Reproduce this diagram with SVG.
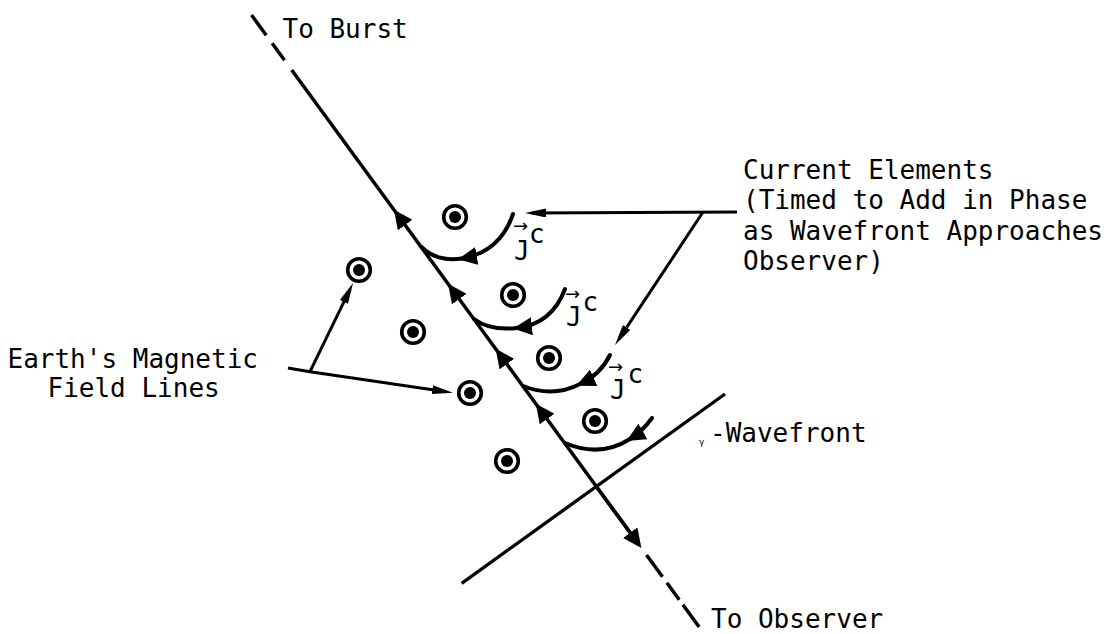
<svg xmlns="http://www.w3.org/2000/svg" width="1120" height="634" viewBox="0 0 1120 634">
<defs>
<style>
.t{font-family:"DejaVu Sans Mono","Liberation Mono",monospace;font-size:26px;fill:#000}
.g{font-family:"DejaVu Sans","Liberation Sans",sans-serif;font-size:9px;fill:#000}
.va{font-family:"DejaVu Sans","Liberation Sans",sans-serif;font-size:18px;fill:#000}
.ln{fill:none;stroke:#000}
.main{stroke-width:3.5}
.loop{stroke-width:4;stroke-linecap:round}
.ptr{stroke-width:3}
.ring{fill:none;stroke:#000;stroke-width:3.6}
.dot{fill:#000}
</style>
<marker id="ah" viewBox="0 0 19 18" refX="15" refY="9" markerWidth="19" markerHeight="18" markerUnits="userSpaceOnUse" orient="auto"><path d="M0,0 L19,9 L0,18 Z" fill="#000"/></marker>
<marker id="ap" viewBox="0 0 21 9" refX="14" refY="4.5" markerWidth="21" markerHeight="9" markerUnits="userSpaceOnUse" orient="auto"><path d="M0,0 L21,4.5 L0,9 Z" fill="#000"/></marker>
<g id="fl"><circle r="11.3" class="ring"/><circle r="6" class="dot"/></g>
</defs>
<rect width="1120" height="634" fill="#fff"/>

<g id="connectors">
  <path id="burst-dash" class="ln main" d="M251.5,15 L291.7,70" stroke-dasharray="25 10 21 40"/>
  <path id="ray" class="ln main" d="M639,544.8 L538.2,407 L498,352 L450.4,287 L396.3,213 L291.7,70" marker-mid="url(#ah)"/>
  <path id="ray-down" class="ln main" d="M596.7,487 L639,544.8" marker-end="url(#ah)"/>
  <path id="observer-dash" class="ln main" d="M641.4,548 L699.2,627" stroke-dasharray="0 8.7 27 7.4 21 6.2 28.5 50"/>
  <path id="wavefront" class="ln" stroke-width="3.3" d="M461.7,583.3 L725,394"/>
  <path class="ln ptr" d="M737,212 L532,213" marker-end="url(#ap)"/>
  <path class="ln ptr" d="M703,212 L618.9,339.2" marker-end="url(#ap)"/>
  <path class="ln ptr" d="M288,368 L310,371.7 L446.1,391.7" marker-end="url(#ap)"/>
  <path class="ln ptr" d="M310,371.7 L350,289.3" marker-end="url(#ap)"/>
  <path class="ln loop" d="M513,214 Q500,252 462,258.5" marker-end="url(#ah)"/>
  <path class="ln loop" d="M462,258.5 Q436,262 421.5,247"/>
  <path class="ln loop" d="M565,289 Q552,324 517,328" marker-end="url(#ah)"/>
  <path class="ln loop" d="M517,328 Q490,331 474,319"/>
  <path class="ln loop" d="M610,355 Q600,375 580,384" marker-end="url(#ah)"/>
  <path class="ln loop" d="M580,384 Q553,398 523,386"/>
  <path class="ln loop" d="M652,418 Q642,432 630,439" marker-end="url(#ah)"/>
  <path class="ln loop" d="M630,439 Q600,458 565,443"/>
</g>

<g id="field-1"><use href="#fl" x="455" y="217"/></g>
<g id="field-2"><use href="#fl" x="359" y="270"/></g>
<g id="field-3"><use href="#fl" x="513" y="295"/></g>
<g id="field-4"><use href="#fl" x="413" y="332"/></g>
<g id="field-5"><use href="#fl" x="549" y="358"/></g>
<g id="field-6"><use href="#fl" x="470" y="393"/></g>
<g id="field-7"><use href="#fl" x="595" y="421"/></g>
<g id="field-8"><use href="#fl" x="507" y="461"/></g>

<g id="jc-1">
  <text class="va" x="513" y="232">→</text>
  <text class="t" x="514" y="260">J</text>
  <text class="t" x="529" y="243">c</text>
</g>
<g id="jc-2">
  <text class="va" x="565" y="300">→</text>
  <text class="t" x="566" y="326">J</text>
  <text class="t" x="582.5" y="311">c</text>
</g>
<g id="jc-3">
  <text class="va" x="608" y="373">→</text>
  <text class="t" x="610" y="399">J</text>
  <text class="t" x="627.5" y="383">c</text>
</g>

<g id="label-burst"><text class="t" x="282.5" y="38">To Burst</text></g>
<g id="label-observer"><text class="t" x="711" y="628">To Observer</text></g>
<g id="label-wavefront">
  <text class="g" x="699" y="445">γ</text>
  <text class="t" x="710" y="442">-Wavefront</text>
</g>
<g id="label-current">
  <text class="t" x="743" y="179">Current Elements</text>
  <text class="t" x="743" y="209">(Timed to Add in Phase</text>
  <text class="t" x="743" y="240">as Wavefront Approaches</text>
  <text class="t" x="743" y="270">Observer)</text>
</g>
<g id="label-field">
  <text class="t" x="7.5" y="368">Earth's Magnetic</text>
  <text class="t" x="47.5" y="397">Field Lines</text>
</g>
</svg>
